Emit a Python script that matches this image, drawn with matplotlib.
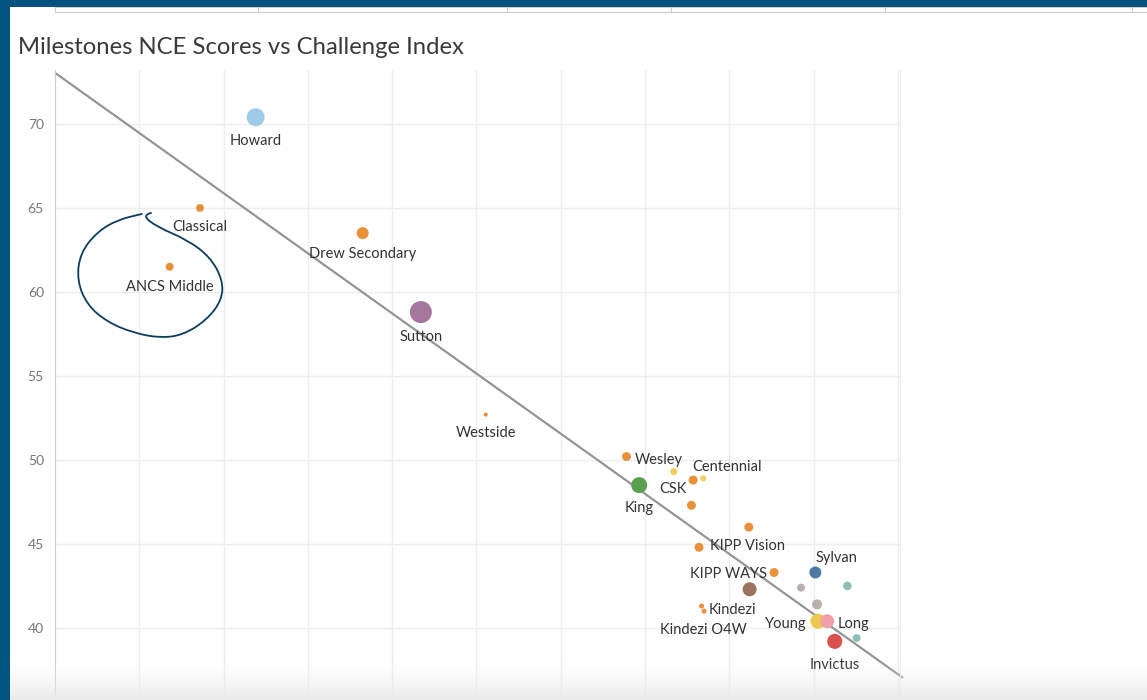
import matplotlib

matplotlib.use("Agg")

import matplotlib.pyplot as plt  # noqa: E402
import numpy as np  # noqa: E402
from matplotlib.patches import PathPatch, Rectangle  # noqa: E402
from matplotlib.path import Path  # noqa: E402

plt.rcParams["font.family"] = ["Lato", "DejaVu Sans"]

# --- data -------------------------------------------------------------
schools = [
    "Howard", "Classical", "ANCS Middle", "Drew Secondary", "Sutton",
    "Westside", "Wesley", "", "CSK", "Centennial", "King", "", "",
    "KIPP Vision", "KIPP WAYS", "Sylvan", "", "", "", "", "Kindezi",
    "Kindezi O4W", "Young", "Long", "", "Invictus",
]
challenge_index = [
    23.8, 17.2, 13.6, 36.5, 43.4,
    51.1, 67.8, 73.4, 75.7, 76.9, 69.3, 75.5, 82.3,
    76.4, 85.3, 90.2, 88.5, 94.0, 82.4, 90.4, 76.7,
    77.0, 90.5, 91.6, 95.1, 92.5,
]
nce_score = [
    70.4, 65.0, 61.5, 63.5, 58.8,
    52.7, 50.2, 49.3, 48.8, 48.9, 48.5, 47.3, 46.0,
    44.8, 43.3, 43.3, 42.4, 42.5, 42.3, 41.4, 41.3,
    41.0, 40.4, 40.4, 39.4, 39.2,
]
enrollment = [
    970, 190, 190, 430, 1450,
    50, 240, 150, 240, 110, 770, 240, 240,
    240, 240, 430, 190, 220, 590, 300, 75,
    75, 680, 590, 190, 680,
]
school_colors = [
    "#a0cbe8", "#e8913a", "#e8913a", "#e8913a", "#a5769e",
    "#e8913a", "#e8913a", "#f1ce63", "#e8913a", "#f1ce63", "#59a14f",
    "#e8913a", "#e8913a", "#e8913a", "#e8913a", "#4e79a7", "#bab0ac",
    "#8dbfb8", "#9c755f", "#bab0ac", "#e8913a", "#e8913a", "#ebc84f",
    "#f2a0a8", "#8dbfb8", "#d9504f",
]

# linear trend as drawn in the source (intercept at x=0, slope)
trend_intercept = 73.04
trend_slope = -0.358

# label placement (pixel offsets from the mark; + y is up)
label_offsets = {
    "Howard": (0, -24), "Classical": (0, -19), "ANCS Middle": (0, -20),
    "Drew Secondary": (0, -21), "Sutton": (0, -25), "Westside": (0, -18),
    "King": (0, -23), "Invictus": (0, -24), "Wesley": (32, -3),
    "Centennial": (24, 11), "CSK": (-20, -9), "KIPP Vision": (48, 1),
    "KIPP WAYS": (-46, -2), "Sylvan": (21, 14), "Kindezi": (31, -4),
    "Kindezi O4W": (-1, -19), "Young": (-32, -3), "Long": (26, -3),
}

# hand-drawn loop around ANCS Middle (data coords)
doodle_x = [11.4, 10.3, 12.1, 15.7, 18.4, 19.9, 19.8, 18.0, 15.2, 12.5,
            9.3, 6.2, 3.8, 2.6, 3.0, 5.0, 7.4, 10.3]
doodle_y = [64.70, 64.58, 63.87, 63.10, 62.08, 60.71, 59.52, 58.33, 57.44,
            57.26, 57.56, 58.21, 59.23, 60.71, 62.32, 63.57, 64.29, 64.64]

W, H = 1147, 700
fig = plt.figure(figsize=(W / 100, H / 100), dpi=100)
fig.patch.set_facecolor("white")

ax = fig.add_axes([55 / W, 0.0, 845 / W, 630 / H])
ax.set_xlim(0, 100.24)
ax.set_ylim(35.71, 73.21)

x = np.array(challenge_index)
y = np.array(nce_score)
sizes = np.array(enrollment) * 0.173

xl = np.array([0.0, 100.6])
ax.plot(xl, trend_intercept + trend_slope * xl, color="#959595", lw=1.6,
        zorder=2, solid_capstyle="butt", clip_on=False)

ax.scatter(x, y, s=sizes, c=school_colors, linewidths=0, zorder=3)

for name, xi, yi in zip(schools, x, y):
    if not name:
        continue
    dx, dy = label_offsets[name]
    ax.annotate(name, (xi, yi), xytext=(dx, dy), textcoords="offset pixels",
                ha="center", va="center", fontsize=10.5, color="#333333",
                zorder=4)

# axes styling
ax.set_yticks([40, 45, 50, 55, 60, 65, 70])
ax.set_xticks(np.arange(10, 101, 10))
ax.set_xticklabels([])
ax.tick_params(axis="both", length=0)
ax.tick_params(axis="y", labelsize=10, labelcolor="#777777", pad=8)
ax.grid(True, color="#eeeeee", lw=1.0)
ax.set_axisbelow(True)
for side in ("top", "bottom"):
    ax.spines[side].set_visible(False)
ax.spines["right"].set_color("#eeeeee")
ax.spines["left"].set_color("#cfcfcf")
ax.spines["left"].set_linestyle((0, (1, 1)))
ax.spines["left"].set_linewidth(0.8)

# doodle: smooth quadratic B-spline through the stroke points
pts = list(zip(doodle_x, doodle_y))
verts = [pts[0]]
codes = [Path.MOVETO]
for i in range(1, len(pts) - 1):
    mid = ((pts[i][0] + pts[i + 1][0]) / 2, (pts[i][1] + pts[i + 1][1]) / 2)
    verts += [pts[i], mid]
    codes += [Path.CURVE3, Path.CURVE3]
verts.append(pts[-1])
codes.append(Path.LINETO)
ax.add_patch(PathPatch(Path(verts, codes), fill=False, edgecolor="#0d3d5e",
                       lw=1.3, zorder=5, capstyle="round"))

fig.text(18 / W, 1 - 48 / H, "Milestones NCE Scores vs Challenge Index",
         fontsize=17.2, color="#3a3a3a", va="center", ha="left")

# screenshot frame: dashboard border and a sliver of the table above
fig.patches.append(Rectangle((55 / W, 1 - 12 / H), 1, 5 / H,
                             transform=fig.transFigure, facecolor="white",
                             edgecolor="#cccccc", lw=0.8, zorder=10))
for sx in (258, 507, 671, 885, 1132):
    fig.add_artist(plt.Line2D([sx / W, sx / W], [1 - 12 / H, 1 - 7 / H],
                              transform=fig.transFigure, color="#cccccc",
                              lw=0.8, zorder=11))
fig.patches.append(Rectangle((0, 1 - 7 / H), 1, 7 / H,
                             transform=fig.transFigure, facecolor="#00527f",
                             edgecolor="none", zorder=12))
fig.patches.append(Rectangle((0, 0), 10 / W, 1, transform=fig.transFigure,
                             facecolor="#00527f", edgecolor="none",
                             zorder=12))

# faint shadow along the bottom edge
shade = fig.add_axes([10 / W, 0, 1 - 10 / W, 45 / H], zorder=20)
grad = np.zeros((45, 2, 4))
grad[..., :3] = 0.92
grad[..., 3] = np.linspace(1.0, 0.0, 45)[:, None] ** 1.8
shade.imshow(grad, aspect="auto", extent=(0, 1, 0, 1), origin="lower")
shade.axis("off")

fig.savefig("out.png", dpi=100)
